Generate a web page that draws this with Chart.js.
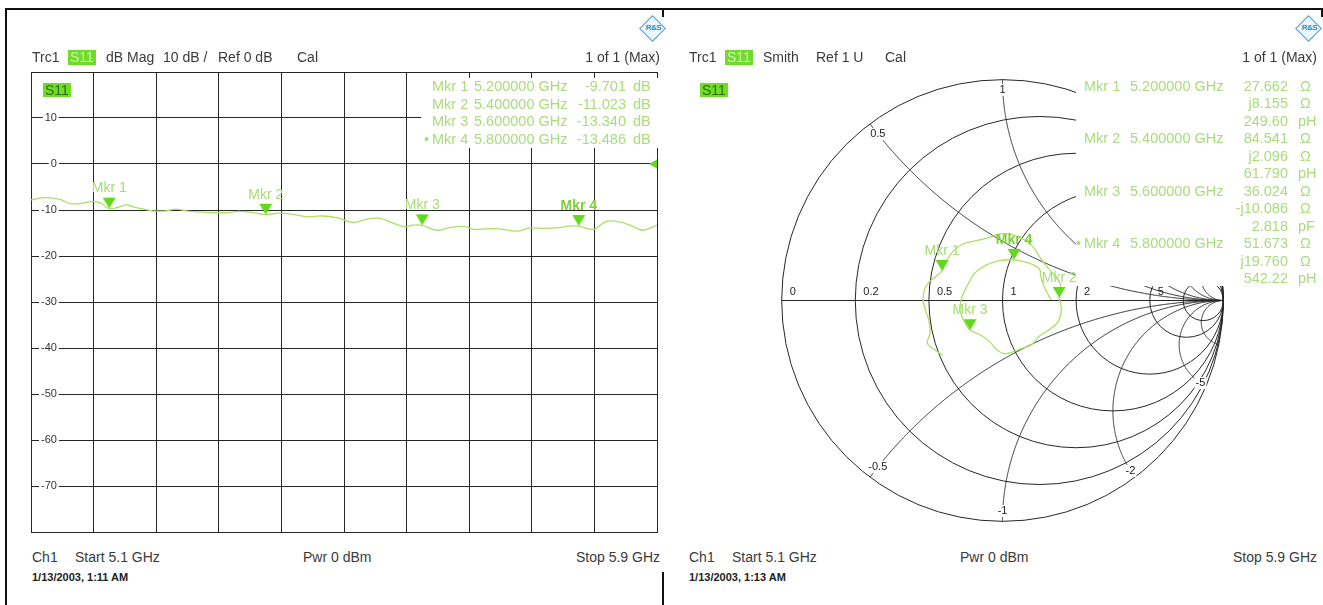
<!DOCTYPE html>
<html><head><meta charset="utf-8">
<script src="https://cdn.jsdelivr.net/npm/chart.js@4.4.1/dist/chart.umd.min.js"></script>
<style>
html,body{margin:0;padding:0;background:#fff;}
body{width:1323px;height:605px;position:relative;overflow:hidden;font-family:"Liberation Sans",Arial,Helvetica,sans-serif;}
.abs{position:absolute;white-space:nowrap;z-index:3;}
.t{font-size:14px;color:#3a3a3a;}
.ro{font-size:14.5px;color:#a9dc7c;}
.date{font-size:11px;font-weight:bold;color:#222;}
.badgeH{background:#6fdc28;color:#cdf5ad;font-size:14px;padding:0 2px;}
.badgeP{background:#6fdc28;color:#2f6c12;font-size:14px;padding:0 2px;}
.ln{position:absolute;background:#111;z-index:4;}
.cv{position:absolute;z-index:1;}
.cover{position:absolute;background:#fff;z-index:2;}
.logo{position:absolute;width:17px;height:17px;border:1.5px solid #3fa0d4;transform:rotate(45deg);z-index:3;background:#eef7fc;}
.logo span{position:absolute;left:1px;top:3px;font-size:8px;font-weight:bold;color:#2f8fc8;letter-spacing:-0.5px;transform:rotate(-45deg);}
</style></head>
<body>
<div class="cv" style="left:10px;top:55px;"><canvas id="c1" width="655" height="494"></canvas></div>
<div class="cv" style="left:764px;top:62px;"><canvas id="c2" width="477" height="477"></canvas></div>
<div class="cover" style="left:421px;top:78px;width:238px;height:70px;"></div>
<div class="cover" style="left:1076px;top:66px;width:247px;height:220px;"></div>
<div class="ln" style="left:5px;top:8px;width:1318px;height:2px;"></div>
<div class="ln" style="left:5px;top:8px;width:2px;height:597px;"></div>
<div class="ln" style="left:662px;top:8px;width:2px;height:9px;"></div>
<div class="ln" style="left:1321px;top:8px;width:2px;height:9px;"></div>
<div class="ln" style="left:662px;top:572px;width:2px;height:33px;"></div>
<div class="logo" style="left:643px;top:19px;"><span>R&amp;S</span></div>
<div class="logo" style="left:1299px;top:19px;"><span>R&amp;S</span></div>
<script>
// ---------------- DATA ----------------
// Left: S11 magnitude (dB) vs frequency (GHz)
const freqGHz = [5.100,5.118,5.137,5.150,5.162,5.177,5.188,5.200,5.213,5.222,5.232,5.247,5.255,5.273,5.285,5.298,5.324,5.349,5.365,5.382,5.400,5.416,5.433,5.454,5.471,5.492,5.511,5.530,5.546,5.562,5.577,5.588,5.600,5.619,5.636,5.654,5.666,5.683,5.699,5.721,5.738,5.755,5.772,5.788,5.800,5.819,5.835,5.852,5.870,5.882,5.900];
const s11dB = [-7.8,-7.3,-7.7,-8.6,-8.6,-8.2,-8.4,-9.701,-9.3,-8.9,-9.4,-9.9,-10.2,-10.2,-9.8,-10.2,-10.5,-10.6,-10.3,-10.5,-11.023,-10.7,-10.9,-11.5,-11.3,-11.7,-12.7,-12.0,-11.8,-12.8,-13.6,-13.3,-13.34,-14.4,-13.8,-13.6,-14.2,-14.1,-14.1,-14.6,-13.9,-14.0,-13.9,-13.5,-13.486,-14.2,-12.5,-12.6,-13.6,-14.4,-13.3];
const xGridGHz = [5.10,5.18,5.26,5.34,5.42,5.50,5.58,5.66,5.74,5.82,5.90];
const yMinDb = -80, yMaxDb = 20, yStepDb = 10;
const mkrNames = ['Mkr 1','Mkr 2','Mkr 3','Mkr 4'];
const mkrFreqGHz = [5.2,5.4,5.6,5.8];
const mkrDb = [-9.701,-11.023,-13.340,-13.486];
const refLevelDb = [0];
// Right: Smith chart (reflection coefficient, real / imaginary)
const smithGammaRe = [-0.271,-0.306,-0.341,-0.328,-0.333,-0.350,-0.359,-0.354,-0.333,-0.302,-0.274,-0.254,-0.219,-0.175,-0.118,-0.066,-0.009,0.044,0.096,0.136,0.166,0.201,0.236,0.263,0.257,0.267,0.254,0.219,0.166,0.131,0.070,0.013,-0.026,-0.061,-0.105,-0.147,-0.175,-0.193,-0.184,-0.158,-0.127,-0.079,-0.018,0.052,0.114,0.166,0.175,0.193,0.219];
const smithGammaIm = [-0.249,-0.223,-0.193,-0.149,-0.092,-0.039,0.004,0.048,0.083,0.109,0.134,0.179,0.228,0.258,0.271,0.284,0.302,0.298,0.276,0.245,0.201,0.153,0.114,0.070,0.012,-0.039,-0.092,-0.127,-0.162,-0.201,-0.223,-0.241,-0.223,-0.184,-0.153,-0.134,-0.092,-0.039,0.013,0.070,0.123,0.158,0.179,0.184,0.171,0.144,0.101,0.053,0.004];
const z0Ohm = 50;
const mkrResOhm = [27.662,84.541,36.024,51.673];
const mkrReactOhm = [8.155,2.096,-10.086,19.760];
const mkrEquiv = ['249.60','61.790','2.818','542.22'];
const mkrEquivUnit = ['pH','pH','pF','pH'];
const smithRes = [0,0.2,0.5,1,2,5,10];
const smithResLabels = ['0','0.2','0.5','1','2','5',''];
const smithReact = [0.5,1,2,5,10,-0.5,-1,-2,-5,-10];
const smithReactLabels = ['0.5','1','2','5','','-0.5','-1','-2','-5',''];

// ---------------- STYLE ----------------
const FONT = '"Liberation Sans", Arial, Helvetica, sans-serif';
const GRID = '#262626';
const TRACE = '#addf62';
const MKR = '#62d81c';
const MKRTXT = '#a6dc72';
const MKRTXT_ACT = '#7ccf36';

function addText(txt, x, yc, cls, align, lh){
  lh = lh || 16;
  const d = document.createElement('div');
  d.className = 'abs ' + cls;
  d.textContent = txt;
  d.style.lineHeight = lh + 'px';
  d.style.top = (yc - lh/2) + 'px';
  if (align === 'right') d.style.right = (1323 - x) + 'px';
  else d.style.left = x + 'px';
  document.body.appendChild(d);
  return d;
}

// Headers / footers
[[0,'dB Mag','10 dB /','Ref 0 dB','1:11 AM'],[657,'Smith','Ref 1 U',null,'1:13 AM']].forEach(function(p){
  const o = p[0];
  addText('Trc1', 32+o, 57, 't');
  addText('S11', 68+o, 57, 'badgeH', null, 15);
  addText(p[1], 106+o, 57, 't');
  if (o === 0){ addText(p[2], 163, 57, 't'); addText(p[3], 218, 57, 't'); addText('Cal', 297, 57, 't'); }
  else { addText(p[2], 816, 57, 't'); addText('Cal', 885, 57, 't'); }
  addText('1 of 1 (Max)', 660+o, 57, 't', 'right');
  addText('S11', 43+o, 90, 'badgeP', null, 14);
  addText('Ch1', 32+o, 557, 't');
  addText('Start  5.1 GHz', 75+o, 557, 't');
  addText('Pwr  0 dBm', 303+o, 557, 't');
  addText('Stop  5.9 GHz', 660+o, 557, 't', 'right');
  addText('1/13/2003, ' + p[4], 32+o, 577, 'date');
});

// Left marker readout
mkrNames.forEach(function(n, i){
  const yc = 87 + 17.5*i;
  if (i === 3) addText('\u2022', 424, yc, 'ro', null, 17.5);
  addText(n, 432, yc, 'ro', null, 17.5);
  addText(mkrFreqGHz[i].toFixed(6) + ' GHz', 474, yc, 'ro', null, 17.5);
  addText(mkrDb[i].toFixed(3), 626, yc, 'ro', 'right', 17.5);
  addText('dB', 633, yc, 'ro', null, 17.5);
});
// Right marker readout
mkrNames.forEach(function(n, i){
  const y0 = 86.5 + 17.5*3*i;
  if (i === 3) addText('\u2022', 1076, y0, 'ro', null, 17.5);
  addText(n, 1084, y0, 'ro', null, 17.5);
  addText(mkrFreqGHz[i].toFixed(6) + ' GHz', 1130, y0, 'ro', null, 17.5);
  addText(mkrResOhm[i].toFixed(3), 1288, y0, 'ro', 'right', 17.5);
  addText('\u03A9', 1300, y0, 'ro', null, 17.5);
  const xv = mkrReactOhm[i];
  addText((xv < 0 ? '-j' : 'j') + Math.abs(xv).toFixed(3), 1288, y0+17.5, 'ro', 'right', 17.5);
  addText('\u03A9', 1300, y0+17.5, 'ro', null, 17.5);
  addText(mkrEquiv[i], 1288, y0+35, 'ro', 'right', 17.5);
  addText(mkrEquivUnit[i], 1298, y0+35, 'ro', null, 17.5);
});

// Marker triangle image: tip at image centre
function triImage(color){
  const c = document.createElement('canvas');
  c.width = 14; c.height = 24;
  const g = c.getContext('2d');
  g.fillStyle = color;
  g.beginPath(); g.moveTo(0.5,1); g.lineTo(13.5,1); g.lineTo(7,12); g.closePath(); g.fill();
  return c;
}
const tri = triImage(MKR);

function markerLabels(dsIndex){
  return {
    id: 'mkrLabels' + dsIndex,
    afterDatasetsDraw(chart){
      const meta = chart.getDatasetMeta(dsIndex);
      const ctx = chart.ctx;
      ctx.save();
      ctx.textAlign = 'center'; ctx.textBaseline = 'middle';
      meta.data.forEach(function(pt, i){
        const act = (i === mkrNames.length - 1);
        ctx.font = (act ? 'bold ' : '') + '14px ' + FONT;
        ctx.fillStyle = act ? MKRTXT_ACT : MKRTXT;
        ctx.fillText(mkrNames[i], pt.x, pt.y - 20);
      });
      ctx.restore();
    }
  };
}

Chart.defaults.font.family = FONT;

// ---------------- LEFT CHART ----------------
new Chart(document.getElementById('c1'), {
  type: 'line',
  data: { datasets: [
    { label: 'S11', data: freqGHz.map(function(f,i){ return {x:f, y:s11dB[i]}; }),
      borderColor: TRACE, borderWidth: 1.3, pointRadius: 0, tension: 0.4, fill: false, order: 3 },
    { label: 'Markers', data: mkrFreqGHz.map(function(f,i){ return {x:f, y:mkrDb[i]}; }),
      showLine: false, pointStyle: tri, pointRadius: 7, order: 1 },
    { label: 'Ref', data: refLevelDb.map(function(v){ return {x: xGridGHz[xGridGHz.length-1], y: v}; }),
      showLine: false, pointStyle: 'triangle', rotation: 270, pointRadius: 8,
      backgroundColor: MKR, borderColor: MKR, borderWidth: 0, order: 2 }
  ]},
  options: {
    responsive: false, animation: false, events: [],
    layout: { padding: { left: 1, right: 4, top: 17, bottom: 17 } },
    plugins: { legend: { display: false }, tooltip: { enabled: false } },
    scales: {
      x: { type: 'linear', min: xGridGHz[0], max: xGridGHz[xGridGHz.length-1],
        afterBuildTicks: function(s){ s.ticks = xGridGHz.map(function(v){ return {value: v}; }); },
        grid: { color: GRID, lineWidth: 1, drawTicks: false },
        border: { color: GRID, width: 1 },
        ticks: { display: false } },
      y: { type: 'linear', min: yMinDb, max: yMaxDb,
        grid: { color: GRID, lineWidth: 1, drawTicks: false },
        border: { color: GRID, width: 1 },
        ticks: { stepSize: yStepDb, mirror: true, crossAlign: 'far', padding: 10,
          color: '#333', font: { size: 11, family: FONT },
          callback: function(v){ return (v === yMaxDb || v === yMinDb) ? '' : String(v); },
          showLabelBackdrop: function(c){ return !!c.tick && c.tick.value !== yMaxDb && c.tick.value !== yMinDb; },
          backdropColor: '#ffffff', backdropPadding: { top: 0, bottom: 0, left: 2, right: 2 } } }
    }
  },
  plugins: [markerLabels(1)]
});

// ---------------- RIGHT CHART (Smith) ----------------
function gammaOf(r, x){
  const d = (r+1)*(r+1) + x*x;
  return [(r*r + x*x - 1)/d, 2*x/d];
}
const smithRange = 238.5/228.5;
const mkrGamma = mkrResOhm.map(function(r,i){ return gammaOf(r/z0Ohm, mkrReactOhm[i]/z0Ohm); });

const smithGrid = {
  id: 'smithGrid',
  beforeDatasetsDraw(chart){
    const ctx = chart.ctx, sx = chart.scales.x, sy = chart.scales.y;
    const px = function(v){ return sx.getPixelForValue(v); };
    const py = function(v){ return sy.getPixelForValue(v); };
    const unit = px(1) - px(0);
    ctx.save();
    ctx.strokeStyle = GRID; ctx.lineWidth = 1;
    ctx.beginPath(); ctx.moveTo(px(-1), py(0)); ctx.lineTo(px(1), py(0)); ctx.stroke();
    smithRes.forEach(function(r){
      const c = r/(1+r), rad = 1/(1+r);
      ctx.beginPath(); ctx.arc(px(c), py(0), px(c+rad) - px(c), 0, 2*Math.PI); ctx.stroke();
    });
    smithReact.forEach(function(x){
      ctx.beginPath();
      const N = 500;
      for (let k = 0; k <= N; k++){
        const t = k/N;
        const g = (k === N) ? [1,0] : gammaOf(t/(1-t), x);
        if (k === 0) ctx.moveTo(px(g[0]), py(g[1])); else ctx.lineTo(px(g[0]), py(g[1]));
      }
      ctx.stroke();
    });
    ctx.font = '11px ' + FONT;
    ctx.fillStyle = '#222';
    ctx.textBaseline = 'middle';
    ctx.textAlign = 'left';
    smithRes.forEach(function(r, i){
      if (!smithResLabels[i]) return;
      ctx.fillText(smithResLabels[i], px((r-1)/(r+1)) + 8, py(0) - 9);
    });
    ctx.textAlign = 'center';
    smithReact.forEach(function(x, i){
      const lab = smithReactLabels[i];
      if (!lab) return;
      const g = gammaOf(0.02, x);
      const m = Math.hypot(g[0], g[1]);
      const f = (m - 6/unit) / m;
      const X = px(g[0]*f), Y = py(g[1]*f);
      const w = ctx.measureText(lab).width;
      ctx.fillStyle = '#fff';
      ctx.fillRect(X - w/2 - 1, Y - 6, w + 2, 12);
      ctx.fillStyle = '#222';
      ctx.fillText(lab, X, Y);
    });
    ctx.restore();
  }
};

new Chart(document.getElementById('c2'), {
  type: 'scatter',
  data: { datasets: [
    { label: 'S11', data: smithGammaRe.map(function(v,i){ return {x:v, y:smithGammaIm[i]}; }),
      showLine: true, borderColor: TRACE, borderWidth: 1.3, pointRadius: 0, tension: 0.35, order: 2 },
    { label: 'Markers', data: mkrGamma.map(function(g){ return {x:g[0], y:g[1]}; }),
      showLine: false, pointStyle: tri, pointRadius: 7, order: 1 }
  ]},
  options: {
    responsive: false, animation: false, events: [],
    layout: { padding: 0 },
    plugins: { legend: { display: false }, tooltip: { enabled: false } },
    scales: {
      x: { type: 'linear', min: -smithRange, max: smithRange, display: false },
      y: { type: 'linear', min: -smithRange, max: smithRange, display: false }
    }
  },
  plugins: [smithGrid, markerLabels(1)]
});
</script>
</body></html>
